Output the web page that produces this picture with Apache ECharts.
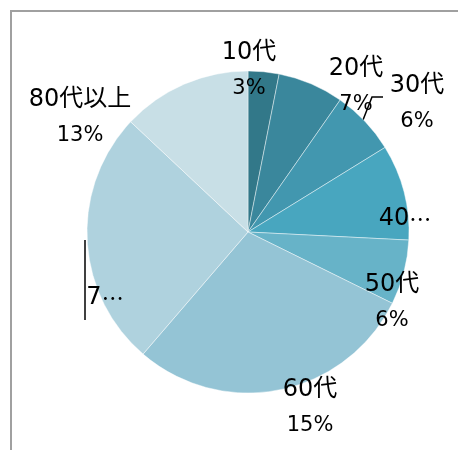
<!DOCTYPE html>
<html>
<head>
<meta charset="utf-8">
<script src="https://cdn.jsdelivr.net/npm/echarts@6/dist/echarts.min.js"></script>
<style>
  html, body { margin: 0; padding: 0; background: #fff; }
  #chart { width: 458px; height: 450px; }
</style>
</head>
<body>
<div id="chart"></div>
<script>
// 年代別の割合
const categories = ['10代', '20代', '30代', '40代', '50代', '60代', '70代', '80代以上'];
const values = [3.1, 6.6, 6.5, 9.6, 6.5, 29.0, 25.7, 13.0];
// 画像に表示されているラベル（40代・70代は省略表示）
const labelNames = ['10代', '20代', '30代', '40', '50代', '60代', '7', '80代以上'];
const labelPcts = ['3%', '7%', '6%', '', '6%', '15%', '', '13%'];

const colors = ['#327889', '#3a879c', '#4297af', '#48a6bf', '#67b3c8', '#94c4d5', '#afd2de', '#c8dfe6'];

// pie geometry
const CX = 248, CY = 232, R = 161;
// label block centre, offset from pie centre (px)
const labelOffset = [[1, -161], [108, -145], [169, -128], [157, -13], [144, 71], [62, 176], [-143, 66], [-168, -114]];
// leader lines, offset from pie centre
const leaders = {
    2: [[115, -112], [124, -135], [135, -135]],
    6: [[-163, 8], [-163, 48], [-163, 88]]
};

const FONT = '"DejaVu Sans", "Noto Sans CJK JP", sans-serif';

let myChart = echarts.init(document.getElementById('chart'));

let data = categories.map((name, i) => ({
    name: name,
    value: values[i],
    itemStyle: { color: colors[i] },
    labelLine: { show: !!leaders[i], lineStyle: { color: '#000', width: 1.5 } }
}));

let option = {
    animation: false,
    graphic: [{
        type: 'rect',
        shape: { x: 11, y: 11, width: 520, height: 520 },
        style: { fill: 'none', stroke: '#a0a0a0', lineWidth: 2 },
        z: 0
    }],
    series: [{
        type: 'pie',
        center: [CX, CY],
        radius: R,
        startAngle: 90,
        clockwise: true,
        avoidLabelOverlap: false,
        itemStyle: { borderColor: 'rgba(255,255,255,0.55)', borderWidth: 0.8 },
        label: {
            show: true,
            position: 'outside',
            formatter: p => {
                let i = p.dataIndex;
                if (!labelPcts[i]) {
                    // truncated label
                    return '{n|' + labelNames[i] + '}{e|…}';
                }
                return '{n|' + labelNames[i] + '}\n{p|' + labelPcts[i] + '}';
            },
            color: '#000',
            fontFamily: FONT,
            align: 'center',
            rich: {
                n: { fontFamily: FONT, fontSize: 24, lineHeight: 36, color: '#000' },
                e: { fontFamily: '"Noto Sans CJK JP", sans-serif', fontSize: 22, lineHeight: 36, color: '#000' },
                p: { fontFamily: FONT, fontSize: 21, lineHeight: 36, color: '#000' }
            }
        },
        labelLine: { show: false, length: 5, length2: 5 },
        labelLayout: function (params) {
            let i = params.dataIndex;
            let off = labelOffset[i];
            let res = {
                x: CX + off[0],
                y: CY + off[1],
                align: 'center',
                verticalAlign: 'middle'
            };
            if (leaders[i]) {
                res.labelLinePoints = leaders[i].map(p => [CX + p[0], CY + p[1]]);
            }
            return res;
        },
        data: data
    }]
};

myChart.setOption(option);
</script>
</body>
</html>
